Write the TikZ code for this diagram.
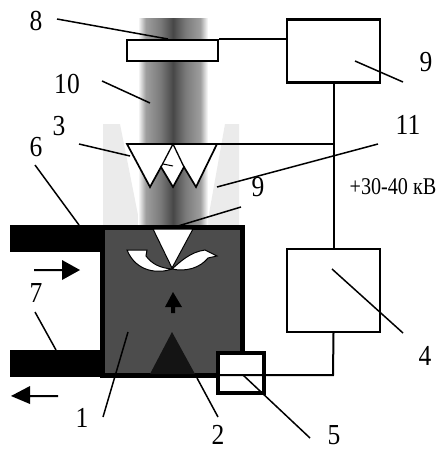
\documentclass[tikz,border=0pt]{standalone}
\usepackage{fontspec}
\setmainfont{Liberation Serif}
\definecolor{chamber}{gray}{0.3}
\definecolor{conegray}{gray}{0.92}
\pgfdeclarehorizontalshading{beamglow}{100bp}{
  color(0bp)=(white); color(25bp)=(white);
  color(30.5bp)=(black!38); color(41bp)=(black!52); color(50bp)=(black!72);
  color(59bp)=(black!52); color(69.5bp)=(black!38); color(75bp)=(white); color(100bp)=(white)}
\tikzset{
  wire/.style={line width=2pt},
  leader/.style={line width=1.5pt},
  unitbox/.style={draw,line width=2.2pt,fill=white,inner sep=0pt},
  num/.style={font=\fontsize{29}{29}\selectfont,inner sep=0pt,xscale=0.88,transform shape},
}
\begin{document}
\begin{tikzpicture}[x=1pt,y=-1pt]
  \useasboundingbox (0,0) rectangle (438,450);
  % cones and beam
  \fill[conegray] (103,124) -- (120,124) -- (140,225) -- (103,225) -- cycle;
  \fill[conegray] (239,124) -- (225,124) -- (207,225) -- (239,225) -- cycle;
  \shade[shading=beamglow] (138,18) rectangle (208,225);
  % chamber
  \fill[black] (10,225) rectangle (102,252);
  \fill[black] (10,350) rectangle (102,377);
  \node[draw=black,fill=chamber,line width=5pt,minimum width=140pt,minimum height=148pt,inner sep=0pt] (chamber) at (172,301) {};
  \fill[black!92] (150,374) -- (172,332) -- (195,374) -- cycle;
  \fill[white,draw=black,line width=1pt] (127,250) -- (147,250) -- (146,256) .. controls (152,264) and (160,268) .. (172,269) .. controls (158,274) and (136,272) .. cycle;
  \fill[white,draw=black,line width=1pt] (172,269) .. controls (180,262) and (190,252) .. (205,250) -- (217,256) -- (208,258) .. controls (200,268) and (186,272) .. cycle;
  \fill[white,draw=black,line width=1pt] (153,229) -- (193,229) -- (172,268) -- cycle;
  \fill[black] (173,292) -- (182,307) -- (175,307) -- (175,313) -- (171,313) -- (171,307) -- (165,307) -- cycle;
  % arrows
  \fill[black] (34,269) -- (62,269) -- (62,260) -- (80,270) -- (62,280) -- (62,271) -- (34,271) -- cycle;
  \fill[black] (58,395) -- (30,395) -- (30,386) -- (11,396) -- (30,404) -- (30,397) -- (58,397) -- cycle;
  % units
  \node[unitbox,minimum width=91pt,minimum height=21pt] (plate) at (172.5,50.5) {};
  \node[unitbox,minimum width=93pt,minimum height=63pt] (upper) at (333.5,51) {};
  \node[unitbox,minimum width=93pt,minimum height=83pt] (supply) at (333.5,290.5) {};
  \node[unitbox,line width=3.5pt,minimum width=46pt,minimum height=40pt] (switch) at (241,373) {};
  % emitter teeth
  \draw[fill=white,line width=1.7pt] (127,144) -- (150,187) -- (161,167) -- (173,187) -- (184,167) -- (196,187) -- (217,144) -- cycle;
  \draw[line width=1.3pt] (161,167) -- (173,144) -- (184,167);
  \draw[line width=1pt] (163,164) -- (173,166);
  \coordinate (teethend) at (217,144);
  \coordinate (branch) at (333,144);
  \coordinate (corner) at (333,375);
  % wires
  \draw[wire] (plate.north east) -- (plate.north east -| upper.west);
  \draw[wire] (upper.south) -- (supply.north);
  \draw[wire] (teethend) -- (branch);
  \draw[wire] (supply.south) -- (corner) -- (corner -| switch.west);
  % leaders
  \coordinate (l8a) at (57,19);  \coordinate (l8b) at (168,39);
  \coordinate (l10a) at (102,81); \coordinate (l10b) at (150,103);
  \coordinate (l3a) at (79,144);  \coordinate (l3b) at (130,156);
  \coordinate (l6a) at (35,165);  \coordinate (l6b) at (79,225);
  \coordinate (l7a) at (35,312);  \coordinate (l7b) at (56,350);
  \coordinate (l1a) at (128,332); \coordinate (l1b) at (103,417);
  \coordinate (l2a) at (197,378); \coordinate (l2b) at (218,417);
  \coordinate (l5a) at (243,375); \coordinate (l5b) at (310,438);
  \coordinate (l4a) at (332,269); \coordinate (l4b) at (403,333);
  \coordinate (l9a) at (355,61);  \coordinate (l9b) at (403,82);
  \coordinate (l9c) at (241,207); \coordinate (l9d) at (178,226);
  \coordinate (l11a) at (378,144); \coordinate (l11b) at (217,187);
  \foreach \a/\b in {l8a/l8b,l10a/l10b,l3a/l3b,l6a/l6b,l7a/l7b,l1a/l1b,l2a/l2b,l5a/l5b,l4a/l4b,l9a/l9b,l9c/l9d,l11a/l11b}
    \draw[leader] (\a) -- (\b);
  % labels
  \node[num] (n8) at (36,21) {8};
  \node[num] (n10) at (67,84) {10};
  \node[num] (n3) at (59,126) {3};
  \node[num] (n6) at (36,147) {6};
  \node[num] (n7) at (36,293) {7};
  \node[num] (n1) at (82,418) {1};
  \node[num] (n2) at (218,435) {2};
  \node[num] (n5) at (334,435) {5};
  \node[num] (n4) at (425,356) {4};
  \node[num] (n9a) at (426,62) {9};
  \node[num] (n9b) at (258,187) {9};
  \node[num] (n11) at (408,125) {11};
  \node[font=\fontsize{24}{24}\selectfont,inner sep=0pt,xscale=0.84,transform shape] (volt) at (393,187) {+30-40 кВ};
\end{tikzpicture}
\end{document}
